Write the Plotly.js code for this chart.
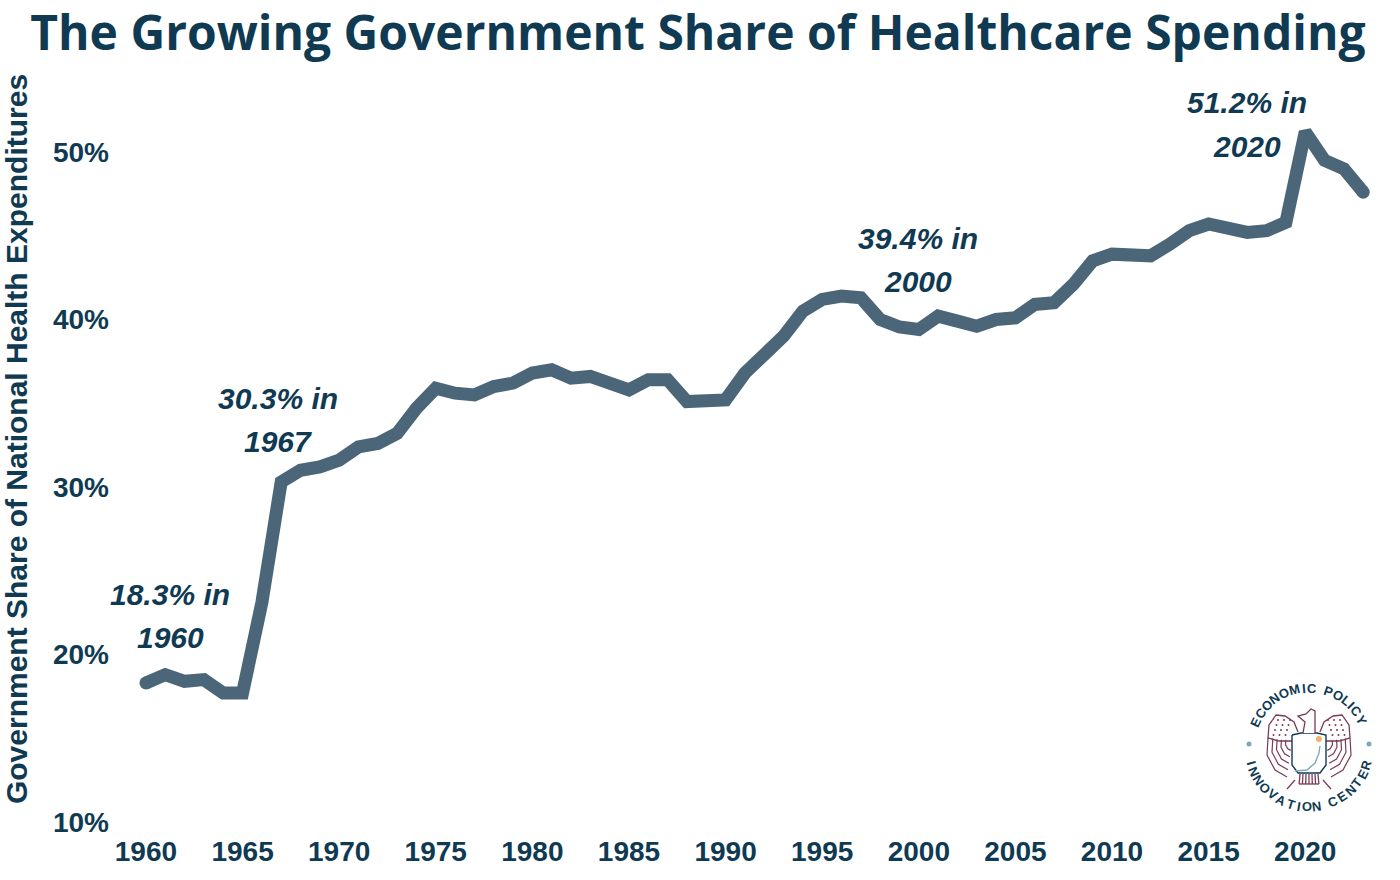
<!DOCTYPE html>
<html><head><meta charset="utf-8">
<script src="https://cdn.plot.ly/plotly-3.0.1.min.js"></script>
<style>html,body{margin:0;padding:0;background:#fff}#c{width:1400px;height:880px}</style>
</head><body><div id="c"></div>
<script>
const years = [1960,1961,1962,1963,1964,1965,1966,1967,1968,1969,1970,1971,1972,1973,1974,1975,1976,1977,1978,1979,1980,1981,1982,1983,1984,1985,1986,1987,1988,1989,1990,1991,1992,1993,1994,1995,1996,1997,1998,1999,2000,2001,2002,2003,2004,2005,2006,2007,2008,2009,2010,2011,2012,2013,2014,2015,2016,2017,2018,2019,2020,2021,2022,2023];
const govShare = [18.3,18.8,18.4,18.5,17.7,17.7,23.1,30.3,31.0,31.2,31.6,32.4,32.6,33.2,34.7,35.9,35.6,35.5,36.0,36.2,36.8,37.0,36.5,36.6,36.2,35.8,36.4,36.4,35.1,35.1,35.2,36.8,38.0,39.0,40.5,41.2,41.4,41.3,40.0,39.55,39.4,40.2,39.9,39.6,40.0,40.1,40.9,41.0,42.1,43.5,43.9,43.9,43.8,44.5,45.3,45.7,45.5,45.2,45.3,45.8,51.2,49.5,49.0,47.6];
const xTicks = [1960,1965,1970,1975,1980,1985,1990,1995,2000,2005,2010,2015,2020];
const yTicks = [10,20,30,40,50];
const yTickLabels = ["10%","20%","30%","40%","50%"];
const calloutLines1 = ["18.3% in","30.3% in","39.4% in","51.2% in"];
const calloutLines2 = ["1960","1967","2000","2020"];
const calloutX = [1961.25,1966.82,1999.95,2016.98];
const calloutY1 = [23.6,35.3,44.85,52.95];
const calloutY2 = [21.0,32.7,42.25,50.35];
const logoTop = "ECONOMIC POLICY";
const logoBottom = "INNOVATION CENTER";

const navy = "#0f3a52", lineCol = "#4b6678", maroon = "#7b3a55", blue = "#7fa6bb";
const font = '"Liberation Sans", Arial, sans-serif';
const titleFont = '"Open Sans", sans-serif';
const L = 110, T = 56, PW = 1270, PH = 766;
const px = (x,y) => [((x-L)/PW).toFixed(5),((T+PH-y)/PH).toFixed(5)];
const P = pts => pts.map((p,i)=>{const q=px(p[0],p[1]);return (i?'L':'M')+q[0]+','+q[1];}).join(' ');
const pth = (pts,col,w,fill) => ({type:'path',xref:'paper',yref:'paper',path:P(pts),line:{color:col,width:w},fillcolor:fill||'rgba(0,0,0,0)',layer:'above'});
const dot = (x,y,r,col) => {const a=px(x-r,y+r),b=px(x+r,y-r);return {type:'circle',xref:'paper',yref:'paper',x0:a[0],y0:a[1],x1:b[0],y1:b[1],fillcolor:col,line:{width:0},layer:'above'};};

const ann = [];
const cfont = {family:font,size:30,color:navy,weight:700,style:'italic'};
calloutLines1.forEach((t,i)=>{
  ann.push({x:calloutX[i],y:calloutY1[i],xref:'x',yref:'y',text:t,showarrow:false,font:cfont,xanchor:'center',yanchor:'middle'});
  ann.push({x:calloutX[i],y:calloutY2[i],xref:'x',yref:'y',text:calloutLines2[i],showarrow:false,font:cfont,xanchor:'center',yanchor:'middle'});
});

const cx = 1309, cy = 747;
const charW = c => c===' '?0.7:c==='I'?0.55:c==='M'?1.3:c==='L'?0.85:1;
function ring(str,startDeg,endDeg,r,flip){
  const chars=[...str];
  const w=chars.map(charW);
  const total=w.reduce((a,b)=>a+b,0)-w[0]/2-w[w.length-1]/2;
  let acc=0;
  chars.forEach((ch,i)=>{
    if(i>0) acc+=(w[i-1]+w[i])/2;
    if(ch===' ')return;
    const d = startDeg + (endDeg-startDeg)*acc/total, a = d*Math.PI/180;
    const q = px(cx + r*Math.sin(a), cy - r*Math.cos(a));
    ann.push({x:+q[0],y:+q[1],xref:'paper',yref:'paper',text:ch,showarrow:false,textangle:flip?d-180:d,
      font:{family:font,size:13,color:navy,weight:700},xanchor:'center',yanchor:'middle'});
  });
}
ring(logoTop,-65,63,59,false);
ring(logoBottom,254,107,60,true);

const shapes = [];
const wing = s => {
  const X = v => cx + s*v;
  shapes.push(pth([[X(11),732],[X(15),722],[X(24),716],[X(33),715],[X(40),725],[X(41),738],[X(30),741],[X(17),741]],maroon,1.3));
  const ox=17, oy=741;
  const feather=[[24,-3],[25,14],[17,29],[5,36]];
  [1,0.8,0.62,0.44,0.26].forEach(f=>shapes.push(pth(feather.map(p=>[X(ox+p[0]*f),oy+p[1]*f]),maroon,1.2)));
  [0,1,2,3].forEach(r=>[0,1,2].forEach(c=>shapes.push(dot(X(19+c*6+r*1.5),720+r*5,1,maroon))));
};
wing(1); wing(-1);
[[-14,780,-22,789],[14,780,22,789]].forEach(a=>shapes.push(pth([[cx+a[0],a[1]],[cx+a[2],a[3]]],maroon,1.2)));
for(let k=-3;k<=3;k++) shapes.push(pth([[cx+k*3,774],[cx+k*3.3,784]],maroon,1.3));
shapes.push(pth([[cx-10,784],[cx+10,784]],maroon,1.3));
shapes.push(pth([[cx-17,735],[cx-8,733],[cx+8,733],[cx+17,735],[cx+17,765],[cx+11,773],[cx-11,773],[cx-17,765],[cx-17,735]],navy,1.4,'#fff'));
shapes.push(pth([[cx-6,733],[cx-4,722],[cx-11,716],[cx-3,714],[cx+2,709],[cx+6,711],[cx+6,733]],maroon,1.3,'#fff'));
shapes.push(pth([[cx-14,771],[cx-2,770],[cx+6,763],[cx+10,753],[cx+11,746]],blue,1.3));
shapes.push(dot(cx+10,739,3,'#f0b26b'));
shapes.push(dot(1249,744,2.5,blue),dot(1369,744,2.5,blue));

const ends = [0, years.length-1];
Plotly.newPlot('c',[
 {x:years,y:govShare,type:'scatter',mode:'lines',line:{color:lineCol,width:13,shape:'linear'},hoverinfo:'x+y',cliponaxis:false},
 {x:ends.map(i=>years[i]),y:ends.map(i=>govShare[i]),type:'scatter',mode:'markers',marker:{color:lineCol,size:13},hoverinfo:'skip',cliponaxis:false}
],{
  width:1400,height:880,paper_bgcolor:'#fff',plot_bgcolor:'#fff',showlegend:false,
  margin:{l:L,r:20,t:T,b:58,pad:0},
  title:{text:'The Growing Government Share of Healthcare Spending',font:{family:titleFont,size:48,color:navy,weight:700},x:0.4985,xanchor:'center',y:0.962,yanchor:'middle'},
  xaxis:{range:[1958.14,2023.87],tickmode:'array',tickvals:xTicks,ticktext:xTicks.map(String),showgrid:false,zeroline:false,showline:false,ticks:'',
    tickfont:{family:font,size:28,color:navy,weight:700},tickangle:0,automargin:false,ticklabelstandoff:10},
  yaxis:{range:[10,55.73],tickmode:'array',tickvals:yTicks,ticktext:yTickLabels,showgrid:false,zeroline:false,showline:false,ticks:'',
    tickfont:{family:font,size:28,color:navy,weight:700},automargin:false,
    title:{text:'Government Share of National Health Expenditures',font:{family:font,size:30,color:navy,weight:700},standoff:20}},
  annotations:ann,shapes:shapes
},{displayModeBar:false,responsive:false});
</script></body></html>
